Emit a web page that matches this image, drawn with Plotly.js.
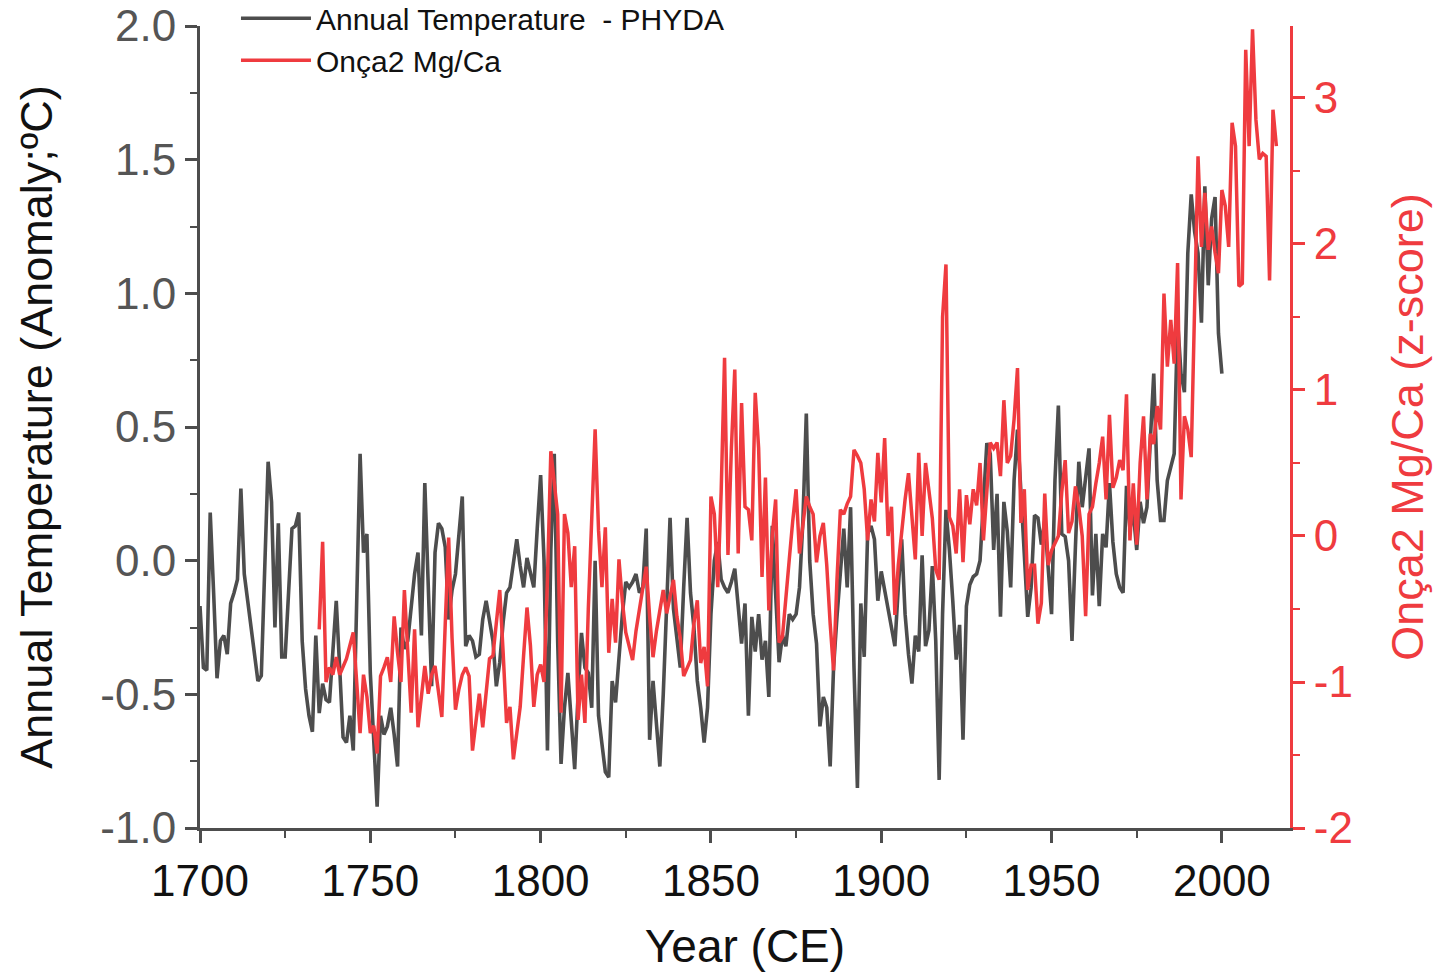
<!DOCTYPE html>
<html>
<head>
<meta charset="utf-8">
<script src="https://cdn.plot.ly/plotly-3.0.1.min.js"></script>
<style>html,body{margin:0;padding:0;background:#fff;}#chart{width:1435px;height:972px;}</style>
</head>
<body>
<div id="chart"></div>
<script>
// Annual Temperature - PHYDA (anomaly, °C), one value per year from 1700
const grayStartYear = 1700;
const grayTemp = [
 -0.17,-0.40,-0.41,0.18,-0.12,-0.44,-0.30,-0.28,-0.35,-0.16,
 -0.12,-0.07,0.27,-0.05,-0.15,-0.25,-0.35,-0.45,-0.43,-0.05,
 0.37,0.22,-0.25,0.14,-0.36,-0.36,-0.10,0.12,0.13,0.18,
 -0.30,-0.48,-0.58,-0.64,-0.28,-0.57,-0.46,-0.52,-0.53,-0.35,
 -0.15,-0.40,-0.66,-0.68,-0.58,-0.71,-0.20,0.40,0.03,0.10,
 -0.42,-0.70,-0.92,-0.58,-0.65,-0.62,-0.55,-0.65,-0.77,-0.25,
 -0.33,-0.30,-0.16,-0.05,0.03,-0.28,0.29,-0.08,-0.47,0.03,
 0.14,0.12,0.05,-0.22,-0.11,-0.05,0.10,0.24,-0.32,-0.28,
 -0.30,-0.36,-0.35,-0.22,-0.15,-0.22,-0.30,-0.47,-0.38,-0.23,
 -0.12,-0.10,-0.02,0.08,-0.02,-0.10,0.01,-0.05,-0.10,0.12,
 0.32,0.00,-0.71,0.04,0.40,-0.30,-0.76,-0.55,-0.42,-0.60,
 -0.78,-0.50,-0.27,-0.40,-0.42,-0.55,0.00,-0.58,-0.70,-0.79,
 -0.81,-0.45,-0.53,-0.35,-0.20,-0.08,-0.10,-0.08,-0.05,-0.12,
 -0.10,0.12,-0.67,-0.45,-0.60,-0.77,-0.50,-0.20,0.16,-0.18,
 -0.30,-0.40,-0.10,0.16,-0.12,-0.25,-0.45,-0.55,-0.68,-0.55,
 -0.20,0.00,0.07,-0.07,-0.10,-0.12,-0.08,-0.03,-0.17,-0.31,
 -0.16,-0.58,-0.21,-0.34,-0.20,-0.37,-0.30,-0.51,0.13,-0.15,
 -0.38,-0.28,-0.32,-0.20,-0.22,-0.20,-0.10,0.15,0.55,0.00,
 -0.20,-0.31,-0.62,-0.51,-0.55,-0.77,-0.40,-0.21,-0.05,0.12,
 -0.10,0.20,-0.40,-0.85,-0.16,-0.36,0.10,0.13,0.08,-0.15,
 -0.04,-0.12,-0.18,-0.25,-0.32,-0.10,0.08,-0.20,-0.35,-0.46,
 -0.28,-0.34,0.02,-0.32,-0.26,-0.02,-0.30,-0.82,-0.20,0.19,
 0.04,-0.15,-0.37,-0.24,-0.67,-0.17,-0.09,-0.06,-0.05,0.00,
 0.20,0.44,0.40,0.04,0.25,-0.21,0.22,0.11,-0.10,0.30,
 0.49,0.25,0.00,-0.21,-0.10,0.17,0.16,0.06,0.15,-0.05,
 -0.20,0.30,0.58,0.10,0.09,0.00,-0.30,0.05,0.37,0.20,
 0.30,0.42,-0.13,0.10,-0.17,0.10,0.05,0.29,0.07,-0.05,
 -0.10,-0.12,0.28,0.12,0.18,0.04,0.22,0.14,0.20,0.44,
 0.70,0.30,0.15,0.15,0.30,0.35,0.40,0.90,0.70,0.63,
 1.15,1.37,1.23,1.15,0.89,1.40,1.03,1.28,1.36,0.85,
 0.70
];

// Onça2 Mg/Ca (z-score), one value per year from 1735
const redStartYear = 1735;
const redZ = [
 -0.64,-0.04,-1.00,-0.90,-0.95,
 -0.83,-0.95,-0.90,-0.84,-0.75,-0.66,-1.00,-1.35,-0.95,-1.10,
 -1.35,-1.30,-1.49,-0.96,-0.90,-0.83,-1.00,-0.55,-0.80,-1.00,
 -0.37,-0.80,-1.21,-0.64,-1.31,-1.10,-0.89,-1.08,-0.95,-0.89,
 -1.05,-1.24,-0.60,-0.01,-0.70,-1.19,-1.05,-0.95,-0.90,-0.96,
 -1.47,-1.25,-1.08,-1.31,-1.05,-0.84,-0.82,-0.60,-0.37,-0.80,
 -1.28,-1.17,-1.53,-1.35,-1.17,-0.82,-0.49,-0.75,-1.17,-0.95,
 -0.88,-1.00,-0.30,0.58,0.35,0.15,-1.21,0.15,0.02,-0.35,
 -0.07,-1.26,-0.95,-1.28,-0.50,0.10,0.73,0.04,-0.35,0.06,
 -0.80,-0.43,-0.73,-0.16,-0.45,-0.66,-0.75,-0.85,-0.65,-0.49,
 -0.35,-0.21,-0.55,-0.83,-0.65,-0.50,-0.37,-0.53,-0.40,-0.30,
 -0.55,-0.70,-0.96,-0.90,-0.85,-0.60,-0.44,-0.87,-0.76,-1.03,
 0.27,0.15,-0.35,0.30,1.22,-0.13,0.60,1.14,-0.12,0.91,
 0.20,0.18,-0.03,0.98,0.60,-0.28,0.40,-0.51,0.00,0.25,
 -0.73,-0.69,-0.40,-0.16,0.10,0.32,-0.12,0.10,0.27,0.20,
 0.15,-0.18,0.00,0.09,-0.20,-0.60,-0.92,-0.30,0.18,0.15,
 0.22,0.27,0.59,0.55,0.50,0.32,-0.03,0.25,0.10,0.57,
 0.23,0.67,0.00,0.20,-0.54,-0.20,0.05,0.25,0.43,0.12,
 -0.16,0.57,0.00,0.50,0.30,0.12,-0.23,-0.30,1.50,1.86,
 0.13,0.07,-0.12,0.32,-0.18,0.28,0.08,0.32,0.21,0.50,
 -0.03,0.30,0.64,0.60,0.64,0.41,0.93,0.50,0.55,0.80,
 1.15,0.09,0.32,-0.37,-0.20,-0.20,-0.60,-0.46,0.29,-0.20,
 -0.10,-0.05,0.00,0.30,0.52,0.02,0.10,0.34,0.20,0.00,
 -0.55,0.15,0.20,0.36,0.50,0.68,0.25,0.83,0.33,0.40,
 0.52,0.45,0.97,-0.03,0.36,-0.06,0.50,0.82,0.25,0.70,
 0.63,0.89,0.73,1.66,1.16,1.48,1.18,1.87,0.25,0.82,
 0.73,0.54,1.48,2.60,1.98,2.35,1.96,2.12,1.94,1.80,
 2.37,2.26,1.98,2.83,2.67,1.71,1.73,3.33,2.67,3.47,
 2.85,2.58,2.62,2.60,1.75,2.92,2.67
];

const leftTickVals = [-1.0,-0.5,0.0,0.5,1.0,1.5,2.0];
const leftTickLabels = ["-1.0","-0.5","0.0","0.5","1.0","1.5","2.0"];
const rightTickVals = [-2,-1,0,1,2,3];
const rightTickLabels = ["-2","-1","0","1","2","3"];
const xTickVals = [1700,1750,1800,1850,1900,1950,2000];
const xTickLabels = ["1700","1750","1800","1850","1900","1950","2000"];

const grayYears = grayTemp.map((_, i) => grayStartYear + i);
const redYears = redZ.map((_, i) => redStartYear + i);

const GRAY = '#4d4d4d';
const RED = '#ef3b3f';
const FONT = 'Liberation Sans, Arial, sans-serif';

const traces = [
  {x: grayYears, y: grayTemp, type: 'scatter', mode: 'lines', name: 'Annual Temperature  - PHYDA',
   line: {color: GRAY, width: 3.6}, xaxis: 'x', yaxis: 'y'},
  {x: redYears, y: redZ, type: 'scatter', mode: 'lines', name: 'Onça2 Mg/Ca',
   line: {color: RED, width: 3.5}, xaxis: 'x', yaxis: 'y2'}
];

const layout = {
  width: 1435, height: 972,
  margin: {l: 200, r: 145, t: 26, b: 144, autoexpand: false},
  paper_bgcolor: '#fff', plot_bgcolor: '#fff',
  font: {family: FONT, color: '#111'},
  showlegend: true,
  legend: {x: 0.033, y: 1.042, xanchor: 'left', yanchor: 'top', bgcolor: 'rgba(0,0,0,0)',
           font: {size: 30, color: '#111'}, tracegroupgap: 0, itemwidth: 70},
  xaxis: {
    range: [1700, 2020], tickmode: 'array', tickvals: xTickVals, ticktext: xTickLabels,
    showline: true, linecolor: GRAY, linewidth: 3, mirror: false,
    ticks: 'outside', ticklen: 12, tickwidth: 3, tickcolor: GRAY,
    minor: {dtick: 25, tick0: 1700, ticks: 'outside', ticklen: 7, tickwidth: 2, tickcolor: GRAY},
    tickfont: {size: 44, color: '#111'},
    showgrid: false, zeroline: false, automargin: false,
    title: {text: 'Year (CE)', font: {size: 46, color: '#111'}, standoff: 28}
  },
  yaxis: {
    range: [-1.0, 2.0], tickmode: 'array', tickvals: leftTickVals, ticktext: leftTickLabels,
    showline: true, linecolor: GRAY, linewidth: 3,
    ticks: 'outside', ticklen: 12, tickwidth: 3, tickcolor: GRAY,
    minor: {dtick: 0.25, tick0: -1, ticks: 'outside', ticklen: 7, tickwidth: 2, tickcolor: GRAY},
    tickfont: {size: 44, color: '#555'},
    showgrid: false, zeroline: false, automargin: false,
    title: {text: 'Annual Temperature (Anomaly;ºC)', font: {size: 45, color: '#111'}, standoff: 34}
  },
  yaxis2: {
    range: [-2.0, 3.493], overlaying: 'y', side: 'right', anchor: 'x',
    tickmode: 'array', tickvals: rightTickVals, ticktext: rightTickLabels,
    showline: true, linecolor: RED, linewidth: 3,
    ticks: 'outside', ticklen: 12, tickwidth: 3, tickcolor: RED,
    minor: {dtick: 0.5, tick0: -2, ticks: 'outside', ticklen: 7, tickwidth: 2, tickcolor: RED},
    tickfont: {size: 44, color: RED},
    showgrid: false, zeroline: false, automargin: false,
    title: {text: 'Onça2 Mg/Ca (z-score)', font: {size: 45, color: RED}, standoff: 40}
  }
};

Plotly.newPlot('chart', traces, layout, {staticPlot: true, displayModeBar: false});
</script>
</body>
</html>
